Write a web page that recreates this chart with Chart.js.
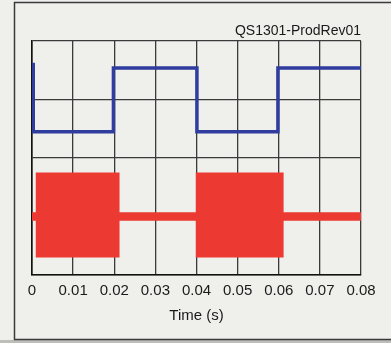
<!DOCTYPE html>
<html>
<head>
<meta charset="utf-8">
<script src="https://cdn.jsdelivr.net/npm/chart.js@4"></script>
<style>
  html, body { margin: 0; padding: 0; background: #eeeeeb; }
  #wrap { width: 391px; height: 343px; }
</style>
</head>
<body>
<div id="wrap"><canvas id="scope" width="391" height="343"></canvas></div>
<script>
// Time axis ticks (s)
const timeTicks = [0, 0.01, 0.02, 0.03, 0.04, 0.05, 0.06, 0.07, 0.08];

// Upper trace: square wave (divisions, 0 = bottom of screen)
const squareTimes  = [0, 0.0003, 0.0198, 0.0401, 0.0598, 0.08];
const squareLevels = [3.6, 2.45, 3.54, 2.45, 3.54, 3.54];

// Lower trace: burst envelope (divisions)
const burstTimes = [0, 0.0011, 0.0211, 0.0400, 0.0610, 0.08];
const burstUpper = [1.06, 1.74, 1.06, 1.74, 1.06, 1.06];
const burstLower = [0.94, 0.31, 0.94, 0.31, 0.94, 0.94];

const FONT = 'Liberation Sans, Arial, sans-serif';

const toPoints = (xs, ys) => xs.map((x, i) => ({ x, y: ys[i] }));

// page background + outer frame
const framePlugin = {
    id: 'frame',
    beforeDraw(chart) {
        const c = chart.ctx;
        c.save();
        c.fillStyle = '#efefec';
        c.fillRect(0, 0, chart.width, chart.height);
        c.fillStyle = '#bdbdba';
        c.fillRect(0, 340, chart.width, 3);
        c.strokeStyle = '#3a3a3a';
        c.lineWidth = 1.5;
        c.beginPath();
        c.moveTo(400, 2.5);
        c.lineTo(14.5, 2.5);
        c.lineTo(14.5, 339.5);
        c.lineTo(400, 339.5);
        c.stroke();
        c.restore();
    }
};

new Chart(document.getElementById('scope'), {
    type: 'line',
    data: {
        datasets: [
            {
                label: 'Square',
                data: toPoints(squareTimes, squareLevels),
                stepped: 'before',
                borderColor: '#2f3d9e',
                borderWidth: 3.5,
                pointRadius: 0,
                fill: false
            },
            {
                label: 'Burst top',
                data: toPoints(burstTimes, burstUpper),
                stepped: 'before',
                borderColor: '#ec3a32',
                backgroundColor: '#ec3a32',
                borderWidth: 1.5,
                pointRadius: 0,
                fill: '+1'
            },
            {
                label: 'Burst bottom',
                data: toPoints(burstTimes, burstLower),
                stepped: 'before',
                borderColor: '#ec3a32',
                borderWidth: 1.5,
                pointRadius: 0,
                fill: false
            }
        ]
    },
    options: {
        responsive: false,
        animation: false,
        layout: { padding: { left: 32, right: 30, top: 0, bottom: 0 } },
        plugins: {
            legend: { display: false },
            tooltip: { enabled: false },
            title: {
                display: true,
                text: 'QS1301-ProdRev01',
                align: 'end',
                color: '#1a1a1a',
                font: { family: FONT, size: 14, weight: 'normal' },
                padding: { top: 23, bottom: 1.2 }
            }
        },
        scales: {
            x: {
                type: 'linear',
                min: 0,
                max: 0.08,
                afterBuildTicks: s => { s.ticks = timeTicks.map(v => ({ value: v })); },
                afterFit: s => { s.height = 68; },
                ticks: {
                    color: '#1a1a1a',
                    font: { family: FONT, size: 15 },
                    padding: 7,
                    maxRotation: 0,
                    callback: v => (v === 0 ? '0' : v.toFixed(2))
                },
                grid: { color: '#3a3a3a', lineWidth: 1.3, drawTicks: false },
                border: { color: '#111', width: 1.6 },
                title: {
                    display: true,
                    text: 'Time (s)',
                    color: '#1a1a1a',
                    font: { family: FONT, size: 15 },
                    padding: { top: 0, bottom: 18 }
                }
            },
            y: {
                min: 0,
                max: 4,
                ticks: { display: false, stepSize: 1 },
                afterFit: s => { s.width = 0; },
                grid: { color: '#3a3a3a', lineWidth: 1.3, drawTicks: false },
                border: { color: '#111', width: 1.6 }
            }
        }
    },
    plugins: [framePlugin]
});
</script>
</body>
</html>
